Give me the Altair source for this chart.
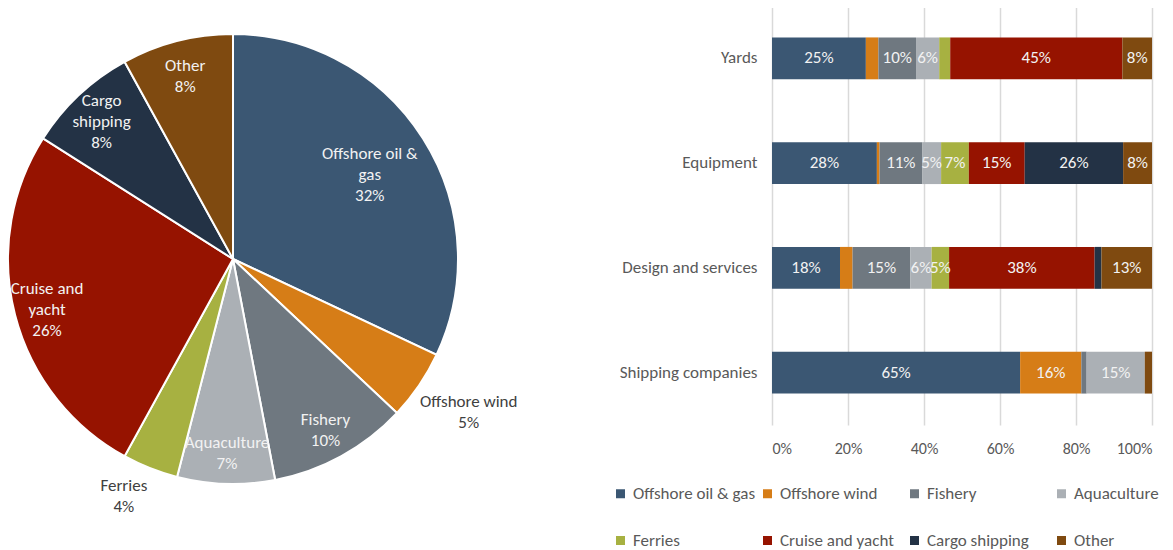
import altair as alt
import pandas as pd

FONT = "Carlito, Calibri, Lato, sans-serif"

categories = ["Offshore oil & gas", "Offshore wind", "Fishery", "Aquaculture",
              "Ferries", "Cruise and yacht", "Cargo shipping", "Other"]
colors = ["#3B5773", "#D67D17", "#6F7880", "#ABB0B5",
          "#A7B141", "#961300", "#233245", "#7F4A10"]

# Pie (share of total)
pie_values = [32, 5, 10, 7, 4, 26, 8, 8]
pie_label_names = ["Offshore oil &\ngas", "Offshore wind", "Fishery", "Aquaculture",
                   "Ferries", "Cruise and\nyacht", "Cargo\nshipping", "Other"]

# 100% stacked bars
companies = ["Yards", "Equipment", "Design and services", "Shipping companies"]
yards = [24.7, 3.3, 9.9, 6.1, 2.9, 45.3, 0.0, 7.8]
equipment = [27.6, 0.7, 11.2, 5.0, 7.3, 14.7, 25.9, 7.6]
design = [17.9, 3.3, 15.2, 5.6, 4.6, 38.3, 1.8, 13.3]
shipping = [65.3, 16.1, 1.4, 15.3, 0.0, 0.0, 0.0, 1.9]

x_ticks = [0, 20, 40, 60, 80, 100]

LH = 21  # label line height

pie_df = pd.DataFrame({
    "cat": categories,
    "idx": list(range(len(categories))),
    "value": pie_values,
    "lname": pie_label_names,
})
pie_df["label"] = [f"{n}\n{v}%" for n, v in zip(pie_label_names, pie_values)]
pie_df["nlines"] = [l.count("\n") + 1 for l in pie_df["label"]]
pie_df["maxchars"] = [max(len(s) for s in l.split("\n")) for l in pie_df["label"]]

rows = []
for comp, vals in zip(companies, [yards, equipment, design, shipping]):
    for i, (c, v) in enumerate(zip(categories, vals)):
        rows.append({"company": comp, "cat": c, "idx": i, "value": v})
bar_df = pd.DataFrame(rows)

color_scale = alt.Scale(domain=categories, range=colors)
legend_def = alt.Legend(
    title=None, orient="none", legendX=604, legendY=479,
    direction="horizontal", columns=4, gridAlign="all",
    columnPadding=3, rowPadding=29, symbolType="square", symbolSize=81,
    symbolStrokeWidth=0, labelFontSize=17, labelColor="#595959",
    labelOffset=4, labelFont=FONT, padding=0,
)

R = 225
CX, CY = 225, 253
PIE_H = 506

arcs = alt.Chart(pie_df).mark_arc(stroke="white", strokeWidth=2, radius=R).encode(
    theta=alt.Theta("value:Q", stack=True),
    order=alt.Order("idx:Q", sort="ascending"),
    color=alt.Color("cat:N", scale=color_scale, legend=legend_def),
)
# inside labels sit on a radius; small slices get an outside label whose box
# edge touches a circle just outside the pie
pie_text = alt.Chart(pie_df).transform_window(
    cum="sum(value)", sort=[alt.SortField("idx")], frame=[None, 0]
).transform_joinaggregate(
    total="sum(value)"
).transform_calculate(
    ang="2 * PI * (datum.cum - datum.value / 2) / datum.total",
    outside="datum.value < 6",
).transform_calculate(
    lr=f"datum.outside ? {R + 5} : (datum.value > 30 ? 162 : 192)",
    hw="datum.outside ? datum.maxchars * 3.5 : 0",
    hh=f"datum.outside ? datum.nlines * {LH} / 2 : 0",
).transform_calculate(
    px=f"{CX} + datum.lr * sin(datum.ang) + (sin(datum.ang) > 0 ? 1 : -1) * datum.hw",
    py=(f"{CY} - datum.lr * cos(datum.ang) - (cos(datum.ang) > 0 ? 1 : -1) * datum.hh"
        f" - (datum.nlines - 1) * {LH} / 2 + 3"),
).mark_text(fontSize=17, lineHeight=LH, lineBreak="\n", font=FONT).encode(
    x=alt.X("px:Q", scale=None, axis=None),
    y=alt.Y("py:Q", scale=None, axis=None),
    text="label:N",
    color=alt.condition("datum.outside", alt.value("#404040"), alt.value("#F2F2F2")),
)
pie = alt.layer(arcs, pie_text).properties(width=2 * CX, height=PIE_H)

y_enc = alt.Y("company:N", sort=companies,
              scale=alt.Scale(paddingInner=0.6, paddingOuter=0.3),
              axis=alt.Axis(title=None, ticks=False, domain=False, labelPadding=15,
                            labelFontSize=17, labelColor="#595959", labelFont=FONT,
                            grid=False))
x_scale = alt.Scale(domain=[0, 100], nice=False)
bars = alt.Chart(bar_df).mark_bar().encode(
    y=y_enc,
    x=alt.X("value:Q", stack="zero", scale=x_scale,
            axis=alt.Axis(title=None, values=x_ticks, labelExpr="datum.value + '%'",
                          grid=True, gridColor="#D9D9D9", gridWidth=1.5,
                          domain=False, ticks=False, labelPadding=15,
                          labelFontSize=16, labelColor="#595959", labelFont=FONT)),
    color=alt.Color("cat:N", scale=color_scale, legend=legend_def),
    order=alt.Order("idx:Q", sort="ascending"),
)
bar_text = alt.Chart(bar_df).transform_window(
    cum="sum(value)", groupby=["company"], sort=[alt.SortField("idx")], frame=[None, 0]
).transform_calculate(
    mid="datum.cum - datum.value / 2",
    lab="round(datum.value) + '%'",
).transform_filter("datum.value >= 4.5").mark_text(
    fontSize=17, color="#F2F2F2", font=FONT
).encode(
    y=alt.Y("company:N", sort=companies),
    x=alt.X("mid:Q", scale=x_scale),
    text="lab:N",
)
bar = alt.layer(bars, bar_text).properties(width=380, height=419)

chart = alt.hconcat(pie, bar, spacing=314, bounds="flush").properties(
    padding={"left": -4, "top": -2, "right": 0, "bottom": 0}
).configure(font=FONT).configure_view(stroke=None)

chart.save("out.html", embed_options={"renderer": "svg", "actions": False})
